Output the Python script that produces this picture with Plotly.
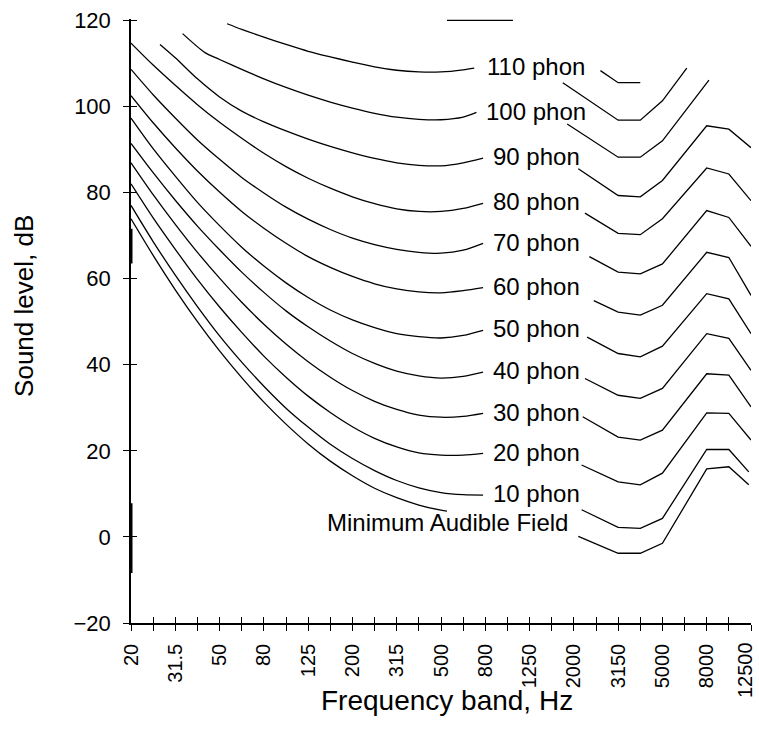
import plotly.graph_objects as go

# ---------------- data ----------------
bands = ["20", "25", "31.5", "40", "50", "63", "80", "100", "125", "160", "200",
         "250", "315", "400", "500", "630", "800", "1000", "1250", "1600", "2000",
         "2500", "3150", "4000", "5000", "6300", "8000", "10000", "12500"]
band_pos = list(range(len(bands)))
tick_labels = ["20", "", "31.5", "", "50", "", "80", "", "125", "", "200", "",
               "315", "", "500", "", "800", "", "1250", "", "2000", "", "3150", "",
               "5000", "", "8000", "", "12500"]
y_ticks = [-20, 0, 20, 40, 60, 80, 100, 120]

# band-index positions (x) and sound level in dB (y); left part runs up to the label,
# right part continues after the label
p120_lx = [14.27, 17.25]
p120_ly = [120, 120]
p120_rx = [21.2, 22, 23]
p120_ry = [108.3, 105.5, 105.5]

p110_lx = [4.34, 5, 6, 7, 8, 9, 10, 11, 12, 13, 14, 15, 15.5]
p110_ly = [119.2, 117.9, 116.1, 114.4, 112.8, 111.5, 110.3, 109.2, 108.4, 108.0, 108.0, 108.5, 108.9]
p110_rx = [19.5, 22, 23, 24, 25.1]
p110_ry = [105.5, 96.8, 96.8, 101.3, 108.9]

p100_lx = [2.33, 3.34, 4, 5, 6, 7, 8, 9, 10, 11, 12, 13, 14, 15, 15.6]
p100_ly = [116.9, 112.5, 110.9, 108.6, 106.4, 104.4, 102.6, 101.0, 99.6, 98.4, 97.5, 97.0, 96.9, 97.5, 98.6]
p100_rx = [19.7, 22, 23, 24, 26.1]
p100_ry = [95.9, 88.2, 88.2, 92.0, 106.1]

p90_lx = [1.31, 2, 3, 4, 5, 6, 7, 8, 9, 10, 11, 12, 13, 14, 15, 15.9]
p90_ly = [114.4, 111.3, 106.4, 102.2, 98.9, 96.4, 94.3, 92.4, 90.7, 89.2, 87.9, 86.9, 86.3, 86.2, 86.9, 88.0]
p90_rx = [20.2, 22, 23, 24, 26, 27, 28]
p90_ry = [85.5, 79.3, 79.0, 82.8, 95.5, 94.7, 90.4]

full_lx = [0, 1, 2, 3, 4, 5, 6, 7, 8, 9, 10, 11, 12, 13, 14, 15, 15.9]
p80_ly = [114.7, 109.6, 104.9, 100.4, 96.3, 92.6, 89.1, 86.0, 83.3, 81.0, 79.0, 77.4, 76.2, 75.6, 75.6, 76.3, 77.5]
p80_rx = [20.5, 22, 23, 24, 26, 27, 28]
p80_ry = [75.2, 70.5, 70.2, 73.9, 85.7, 84.3, 78.1]

p70_ly = [108.6, 102.7, 97.3, 92.2, 87.7, 83.5, 79.9, 76.6, 73.8, 71.4, 69.4, 67.9, 66.8, 66.1, 65.9, 66.6, 68.2]
p70_rx = [20.7, 22, 23, 24, 26, 27, 28]
p70_ry = [65.1, 61.5, 61.1, 63.4, 75.8, 74.2, 67.5]

p60_ly = [102.5, 96.2, 90.4, 85.0, 80.1, 75.6, 71.7, 68.2, 65.1, 62.6, 60.5, 58.8, 57.6, 56.9, 56.7, 57.2, 57.9]
p60_rx = [20.9, 22, 23, 24, 26, 27, 28]
p60_ry = [54.9, 52.2, 51.5, 53.8, 66.1, 64.9, 56.1]

p50_ly = [97.3, 90.2, 83.8, 77.7, 72.3, 67.3, 62.9, 59.0, 55.6, 52.7, 50.4, 48.6, 47.2, 46.5, 46.2, 46.8, 48.0]
p50_rx = [20.6, 22, 23, 24, 26, 27, 28]
p50_ry = [46.4, 42.6, 41.8, 44.3, 56.5, 55.3, 47.2]

p40_ly = [91.4, 84.6, 78.2, 72.2, 66.7, 61.5, 56.8, 52.5, 48.8, 45.5, 42.6, 40.3, 38.5, 37.4, 36.9, 37.3, 38.3]
p40_rx = [20.5, 22, 23, 24, 26, 27, 28]
p40_ry = [36.8, 32.9, 32.2, 34.5, 47.2, 46.1, 38.7]

p30_ly = [86.9, 79.5, 72.6, 66.1, 60.1, 54.5, 49.4, 44.8, 40.7, 37.1, 34.0, 31.5, 29.6, 28.3, 27.8, 28.0, 28.7]
p30_rx = [20.4, 22, 23, 24, 26, 27, 28]
p30_ry = [27.9, 23.2, 22.5, 24.8, 37.9, 37.6, 30.2]

p20_ly = [82.0, 74.1, 66.8, 59.8, 53.4, 47.5, 42.0, 37.1, 32.7, 28.9, 25.6, 22.9, 20.9, 19.5, 19.0, 19.0, 19.4]
p20_rx = [20.35, 22, 23, 24, 26, 27, 28]
p20_ry = [16.7, 12.8, 12.1, 14.8, 28.8, 28.7, 22.5]

p10_ly = [77.0, 68.6, 60.8, 53.5, 46.7, 40.6, 35.0, 29.9, 25.5, 21.5, 18.2, 15.4, 13.1, 11.4, 10.3, 9.8, 9.7]
p10_rx = [20.35, 22, 23, 24, 26, 27, 27.9]
p10_ry = [6.3, 2.2, 2.0, 4.3, 20.3, 20.3, 15.1]

maf_lx = [0, 1, 2, 3, 4, 5, 6, 7, 8, 9, 10, 11, 12, 13, 14, 14.27]
maf_ly = [73.9, 65.4, 57.4, 50.0, 43.2, 37.0, 31.3, 26.2, 21.6, 17.6, 14.2, 11.3, 9.1, 7.4, 6.2, 6.0]
maf_rx = [20.2, 22, 23, 24, 26, 27, 27.9]
maf_ry = [0.1, -3.8, -3.8, -1.5, 15.8, 16.3, 12.1]

# heavy marks on the 20 Hz line of the original print
mark_x = [0, 0, None, 0, 0]
mark_y = [71.6, 63.5, None, 7.8, -8.4]

curve_labels = ["110 phon", "100 phon", "90 phon", "80 phon", "70 phon", "60 phon",
                "50 phon", "40 phon", "30 phon", "20 phon", "10 phon"]

# ---------------- figure ----------------
fig = go.Figure()
LINE = dict(color="black", width=1.3)

curves = [
    (p120_lx, p120_ly, p120_rx, p120_ry),
    (p110_lx, p110_ly, p110_rx, p110_ry),
    (p100_lx, p100_ly, p100_rx, p100_ry),
    (p90_lx, p90_ly, p90_rx, p90_ry),
    (full_lx, p80_ly, p80_rx, p80_ry),
    (full_lx, p70_ly, p70_rx, p70_ry),
    (full_lx, p60_ly, p60_rx, p60_ry),
    (full_lx, p50_ly, p50_rx, p50_ry),
    (full_lx, p40_ly, p40_rx, p40_ry),
    (full_lx, p30_ly, p30_rx, p30_ry),
    (full_lx, p20_ly, p20_rx, p20_ry),
    (full_lx, p10_ly, p10_rx, p10_ry),
    (maf_lx, maf_ly, maf_rx, maf_ry),
]
for lx, ly, rx, ry in curves:
    fig.add_trace(go.Scatter(x=lx, y=ly, mode="lines", line=dict(LINE, shape="spline", smoothing=0.8),
                             hoverinfo="skip"))
    fig.add_trace(go.Scatter(x=rx, y=ry, mode="lines", line=LINE, hoverinfo="skip"))

fig.add_trace(go.Scatter(x=mark_x, y=mark_y, mode="lines", line=dict(color="black", width=3),
                         hoverinfo="skip"))
# carrier for the inward half of the cross ticks
fig.add_trace(go.Scatter(x=[None], y=[None], xaxis="x2", yaxis="y2", mode="lines", hoverinfo="skip"))

FAMILY = "Liberation Sans, Arial, sans-serif"
LABEL_FONT = dict(family=FAMILY, size=24, color="black")
for i, name in enumerate(curve_labels):
    ly = curves[i + 1][1]
    fig.add_annotation(x=18.3, y=ly[-1] + 0.3, text=name, showarrow=False,
                       xanchor="center", yanchor="middle", font=LABEL_FONT)
fig.add_annotation(x=14.3, y=maf_ly[-1] - 2.6, text="Minimum Audible Field", showarrow=False,
                   xanchor="center", yanchor="middle", font=LABEL_FONT)

fig.add_annotation(xref="paper", yref="paper", x=0.509, y=-0.1275, text="Frequency band, Hz",
                   showarrow=False, xanchor="center", yanchor="middle",
                   font=dict(family=FAMILY, size=28, color="black"))
fig.add_annotation(xref="paper", yref="paper", x=-0.1726, y=0.525, text="Sound level, dB",
                   textangle=-90, showarrow=False, xanchor="center", yanchor="middle",
                   font=dict(family=FAMILY, size=26, color="black"))

TICKFONT = dict(family=FAMILY, size=22, color="black")
XTICKFONT = dict(family=FAMILY, size=20, color="black")

# the last band label sits against the right edge: draw it nudged inward
axis_ticktext = tick_labels[:-1] + [""]
fig.add_annotation(x=band_pos[-1], xref="x", y=0, yref="paper", text=tick_labels[-1],
                   textangle=-90, showarrow=False, xanchor="center", yanchor="top",
                   xshift=-6, yshift=-17, font=XTICKFONT)

fig.update_layout(
    width=759, height=742, autosize=False,
    margin=dict(l=131, r=8, t=19, b=119, autoexpand=False),
    plot_bgcolor="white", paper_bgcolor="white", showlegend=False,
    xaxis=dict(range=[0, 28], tickmode="array", tickvals=band_pos, ticktext=axis_ticktext,
               ticks="outside", ticklen=6, tickwidth=1.3, tickcolor="black",
               showline=True, linewidth=1.5, linecolor="black", showgrid=False, zeroline=False,
               tickangle=-90, tickfont=XTICKFONT, ticklabelstandoff=5, ticklabeloverflow="allow",
               automargin=False),
    yaxis=dict(range=[-20, 120.3], tickmode="array", tickvals=y_ticks,
               ticks="outside", ticklen=6, tickwidth=1.3, tickcolor="black",
               showline=True, linewidth=1.5, linecolor="black", showgrid=False, zeroline=False,
               tickfont=TICKFONT, ticklabelstandoff=8, ticklabeloverflow="allow", automargin=False),
    xaxis2=dict(overlaying="x", anchor="y", range=[0, 28], tickmode="array", tickvals=band_pos,
                ticks="inside", ticklen=6, tickwidth=1.3, tickcolor="black", automargin=False,
                showticklabels=False, showline=False, showgrid=False, zeroline=False),
    yaxis2=dict(overlaying="y", anchor="x", range=[-20, 120.3], tickmode="array", tickvals=y_ticks,
                ticks="inside", ticklen=6, tickwidth=1.3, tickcolor="black", automargin=False,
                showticklabels=False, showline=False, showgrid=False, zeroline=False),
)

fig.write_html("out.html")
